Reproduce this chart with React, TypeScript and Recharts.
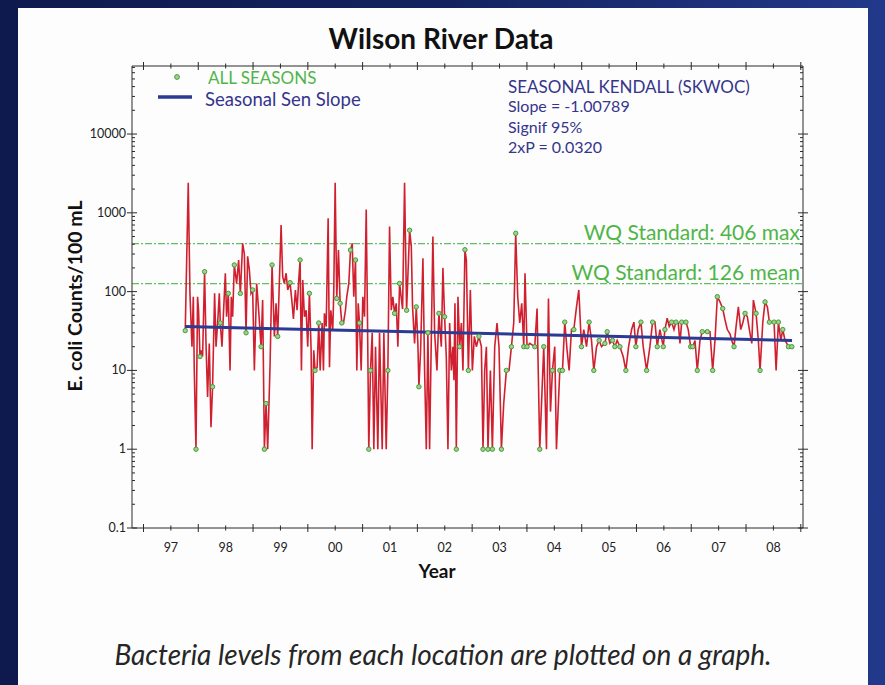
import React from "react";
import { Line, LineChart, ReferenceLine, XAxis, YAxis } from "recharts";

// decimal year of each sample
const sampleYears = [
    1997.762, 1997.817, 1997.848, 1997.885, 1997.909, 1997.927, 1997.958, 1997.987, 1998.005, 1998.031,
    1998.055, 1998.079, 1998.115, 1998.141, 1998.17, 1998.201, 1998.232, 1998.261, 1998.298, 1998.324,
    1998.36, 1998.384, 1998.402, 1998.433, 1998.457, 1998.494, 1998.517, 1998.548, 1998.58, 1998.603,
    1998.627, 1998.658, 1998.7, 1998.737, 1998.768, 1998.81, 1998.841, 1998.872, 1998.901, 1998.932,
    1998.963, 1998.993, 1999.024, 1999.066, 1999.102, 1999.146, 1999.175, 1999.207, 1999.238, 1999.267,
    1999.311, 1999.347, 1999.389, 1999.42, 1999.45, 1999.512, 1999.541, 1999.572, 1999.603, 1999.633,
    1999.676, 1999.713, 1999.737, 1999.773, 1999.804, 1999.834, 1999.859, 1999.883, 1999.907, 1999.938,
    1999.969, 1999.998, 2000.029, 2000.06, 2000.079, 2000.108, 2000.133, 2000.17, 2000.199, 2000.225,
    2000.261, 2000.285, 2000.303, 2000.335, 2000.371, 2000.395, 2000.419, 2000.455, 2000.473, 2000.499,
    2000.528, 2000.559, 2000.59, 2000.62, 2000.651, 2000.687, 2000.711, 2000.748, 2000.779, 2000.81,
    2000.839, 2000.87, 2000.894, 2000.92, 2000.943, 2000.974, 2001.004, 2001.035, 2001.066, 2001.09,
    2001.113, 2001.144, 2001.175, 2001.205, 2001.236, 2001.278, 2001.309, 2001.358, 2001.388, 2001.431,
    2001.461, 2001.492, 2001.523, 2001.552, 2001.583, 2001.614, 2001.644, 2001.675, 2001.73, 2001.766,
    2001.803, 2001.858, 2001.889, 2001.912, 2001.949, 2001.98, 2002.009, 2002.028, 2002.059, 2002.101,
    2002.132, 2002.163, 2002.192, 2002.223, 2002.283, 2002.315, 2002.357, 2002.393, 2002.437, 2002.466,
    2002.497, 2002.528, 2002.558, 2002.589, 2002.62, 2002.649, 2002.667, 2002.686, 2002.711, 2002.741,
    2002.772, 2002.803, 2002.832, 2002.868, 2002.894, 2002.931, 2002.967, 2003.004, 2003.04, 2003.077,
    2003.124, 2003.168, 2003.198, 2003.229, 2003.26, 2003.289, 2003.333, 2003.369, 2003.412, 2003.454,
    2003.49, 2003.534, 2003.576, 2003.625, 2003.673, 2003.717, 2003.759, 2003.795, 2003.832, 2003.869,
    2003.905, 2003.942, 2003.965, 2004.002, 2004.051, 2004.143, 2004.185, 2004.234, 2004.307, 2004.357,
    2004.393, 2004.43, 2004.466, 2004.508, 2004.539, 2004.6, 2004.649, 2004.691, 2004.733, 2004.77,
    2004.813, 2004.856, 2004.905, 2004.947, 2004.996, 2005.038, 2005.088, 2005.135, 2005.179, 2005.221,
    2005.271, 2005.318, 2005.362, 2005.423, 2005.465, 2005.514, 2005.563, 2005.605, 2005.647, 2005.697,
    2005.757, 2005.806, 2005.856, 2005.911, 2005.953, 2005.989, 2006.031, 2006.081, 2006.123, 2006.185,
    2006.245, 2006.294, 2006.337, 2006.379, 2006.428, 2006.489, 2006.519, 2006.561, 2006.598, 2006.642,
    2006.684, 2006.721, 2006.763, 2006.794, 2006.825, 2006.867, 2006.903, 2006.945, 2006.989, 2007.026,
    2007.068, 2007.11, 2007.159, 2007.201, 2007.251, 2007.293, 2007.342, 2007.391, 2007.433, 2007.476,
    2007.525, 2007.574, 2007.616, 2007.658, 2007.708, 2007.739, 2007.781, 2007.818, 2007.86, 2007.903,
    2007.94, 2007.982, 2008.024, 2008.061, 2008.105, 2008.134, 2008.183, 2008.225, 2008.256, 2008.306,
    2008.347, 2008.39, 2008.426, 2008.472, 2008.512, 2008.549, 2008.591, 2008.635, 2008.671, 2008.712,
    2008.744, 2008.774, 2008.836,
];

// E. coli counts per 100 mL
const ecoliCounts = [
    32, 2400, 95, 20, 86, 10, 1, 86, 58, 15,
    18, 15, 179, 22, 4.6, 22, 1.9, 6.2, 95, 20,
    48, 95, 40, 20, 48, 171, 48, 95, 10, 86,
    48, 218, 127, 252, 95, 410, 300, 30, 280, 190,
    95, 105, 10, 127, 58, 20, 78, 1, 3.8, 1,
    12, 218, 27, 71, 27, 700, 155, 127, 171, 105,
    130, 71, 45, 105, 58, 140, 252, 10, 140, 48,
    58, 20, 95, 18, 1, 18, 10, 11, 40, 10,
    40, 10, 53, 36, 850, 11, 58, 33, 95, 2400,
    82, 337, 71, 40, 40, 58, 86, 127, 337, 410,
    86, 252, 10, 71, 40, 10, 86, 48, 1100, 40,
    1, 10, 30, 1, 20, 1, 30, 1, 30, 1,
    10, 670, 58, 86, 53, 71, 20, 127, 60, 2400,
    58, 600, 372, 64, 22, 64, 22, 6.2, 18, 265,
    10, 1, 30, 1, 500, 30, 10, 53, 20, 200,
    48, 15, 1, 40, 10, 20, 7.5, 71, 1, 86,
    20, 40, 10, 340, 252, 10, 105, 10, 27, 20,
    27, 20, 1, 10, 20, 1, 10, 1, 20, 40,
    20, 1, 3.8, 10, 10, 20, 40, 550, 86, 40,
    71, 20, 171, 20, 22, 20, 61, 1, 20, 1,
    82, 3, 10, 20, 1, 10, 10, 41, 18, 10,
    33, 33, 64, 105, 20, 33, 20, 41, 24, 10,
    20, 24, 20, 22, 31, 22, 24, 20, 24, 20,
    15, 10, 20, 33, 41, 20, 33, 41, 20, 10,
    20, 41, 41, 20, 33, 20, 33, 46, 36, 41,
    33, 41, 40, 22, 41, 41, 41, 33, 20, 20,
    24, 10, 24, 31, 31, 31, 31, 10, 24, 86,
    74, 61, 44, 33, 29, 24, 20, 36, 64, 33,
    40, 53, 48, 33, 22, 78, 53, 24, 10, 41,
    74, 64, 41, 41, 41, 10, 41, 24, 33, 24,
    22, 20, 20,
];

// 1 = sample shown with an "ALL SEASONS" marker
const seasonalMarks = [
    1, 0, 0, 0, 0, 0, 1, 0, 0, 1,
    0, 0, 1, 0, 0, 0, 0, 1, 0, 0,
    0, 0, 1, 0, 0, 0, 0, 1, 0, 0,
    0, 1, 0, 0, 1, 0, 0, 1, 0, 0,
    0, 1, 0, 0, 0, 1, 0, 1, 1, 0,
    0, 1, 0, 0, 1, 0, 0, 0, 0, 0,
    1, 0, 0, 0, 0, 0, 1, 0, 0, 0,
    0, 0, 1, 0, 0, 0, 1, 0, 1, 0,
    0, 0, 0, 0, 0, 0, 0, 0, 0, 0,
    1, 0, 1, 1, 0, 0, 0, 0, 1, 0,
    0, 1, 0, 0, 1, 0, 0, 0, 0, 0,
    1, 1, 0, 0, 0, 0, 0, 0, 0, 0,
    1, 0, 0, 0, 1, 0, 0, 1, 0, 0,
    1, 1, 0, 0, 0, 1, 0, 1, 0, 0,
    0, 0, 1, 0, 0, 0, 0, 1, 0, 0,
    1, 0, 0, 0, 0, 0, 0, 0, 1, 0,
    1, 0, 0, 1, 0, 1, 0, 0, 0, 0,
    1, 0, 1, 0, 0, 1, 0, 1, 0, 0,
    0, 1, 0, 1, 0, 1, 0, 1, 0, 0,
    0, 1, 0, 1, 0, 1, 0, 1, 1, 0,
    0, 0, 1, 0, 0, 1, 1, 1, 0, 0,
    0, 1, 0, 0, 1, 0, 0, 1, 0, 1,
    0, 1, 0, 1, 1, 0, 1, 1, 0, 1,
    0, 1, 0, 0, 0, 1, 0, 1, 0, 1,
    0, 1, 0, 1, 0, 1, 1, 0, 0, 1,
    0, 1, 0, 0, 1, 0, 1, 0, 1, 1,
    0, 1, 0, 1, 0, 1, 0, 1, 0, 1,
    0, 1, 0, 0, 0, 0, 1, 0, 0, 0,
    0, 1, 0, 0, 0, 0, 1, 0, 1, 0,
    1, 0, 1, 0, 1, 0, 1, 0, 1, 0,
    0, 1, 1,
];

const senSlopeYears = [1997.76, 2008.84];
const senSlopeCounts = [36, 24];

const wqMax = 406;
const wqMean = 126;

const yearTicks = [
    1997, 1997.5, 1998, 1998.5, 1999, 1999.5, 2000, 2000.5, 2001, 2001.5, 2002, 2002.5, 2003,
    2003.5, 2004, 2004.5, 2005, 2005.5, 2006, 2006.5, 2007, 2007.5, 2008, 2008.5, 2009,
];
const yearLabels = ["97", "98", "99", "00", "01", "02", "03", "04", "05", "06", "07", "08"];

const decadeTicks = [0.1, 1, 10, 100, 1000, 10000];
const decadeLabels = ["0.1", "1", "10", "100", "1000", "10000"];

const X_DOMAIN: [number, number] = [1996.79, 2009.04];
const Y_DOMAIN: [number, number] = [0.1, 73000];

const countTicks = decadeTicks
    .flatMap((d) => [1, 2, 3, 4, 5, 6, 7, 8, 9].map((m) => Number((d * m).toPrecision(3))))
    .filter((v) => v <= Y_DOMAIN[1]);

const FONT = "Lato, 'Noto Sans', sans-serif";
const AXIS = "#2a2a2a";
const GREEN = "#4fb548";
const INDIGO = "#35358c";

const chartData = sampleYears.map((year, i) => ({
    year,
    count: ecoliCounts[i],
    seasonal: seasonalMarks[i] === 1,
}));

const senData = senSlopeYears.map((year, i) => ({ year, count: senSlopeCounts[i] }));

function BottomYearTick(props: any) {
    const { x, y, payload } = props;
    const v = payload.value as number;
    const major = Number.isInteger(v);
    const len = major ? 4 : 2.5;
    return (
        <g>
            <line x1={x} x2={x} y1={y - len} y2={y + len} stroke={AXIS} strokeWidth={1} />
            {!major && (
                <text x={x} y={y + 24} textAnchor="middle" fontSize={12.5} fontFamily={FONT} fill="#222">
                    {yearLabels[Math.round(v - 1997.5)]}
                </text>
            )}
        </g>
    );
}

function TopYearTick(props: any) {
    const { x, y, payload } = props;
    const len = Number.isInteger(payload.value) ? 4 : 2.5;
    return <line x1={x} x2={x} y1={y - len} y2={y + len} stroke={AXIS} strokeWidth={1} />;
}

function isDecade(v: number) {
    return decadeTicks.some((d) => Math.abs(d - v) / d < 1e-6);
}

function LeftCountTick(props: any) {
    const { x, y, payload } = props;
    const v = payload.value as number;
    const major = isDecade(v);
    const idx = decadeTicks.findIndex((d) => Math.abs(d - v) / d < 1e-6);
    return (
        <g>
            <line x1={x - (major ? 5 : 0)} x2={x + (major ? 5 : 3)} y1={y} y2={y} stroke={AXIS} strokeWidth={1} />
            {major && (
                <text x={x - 6} y={y + 4} textAnchor="end" fontSize={12.5} fontFamily={FONT} fill="#222">
                    {decadeLabels[idx]}
                </text>
            )}
        </g>
    );
}

function RightCountTick(props: any) {
    const { x, y, payload } = props;
    const major = isDecade(payload.value);
    return <line x1={x - (major ? 5 : 3)} x2={x + (major ? 5 : 0)} y1={y} y2={y} stroke={AXIS} strokeWidth={1} />;
}

function SeasonDot(props: any) {
    const { cx, cy, payload, index } = props;
    if (!payload || !payload.seasonal) return <g key={`sd-${index}`} />;
    return <circle key={`sd-${index}`} cx={cx} cy={cy} r={2.2} fill="#9fd488" stroke="#469a3e" strokeWidth={1} />;
}

type TxtProps = {
    x: number;
    y: number;
    size: number;
    color?: string;
    anchor?: "start" | "middle" | "end";
    bold?: boolean;
    italic?: boolean;
    rotate?: boolean;
    children: React.ReactNode;
};

function Txt({ x, y, size, color = "#111", anchor = "start", bold, italic, rotate, children }: TxtProps) {
    const tx = anchor === "start" ? "0" : anchor === "middle" ? "-50%" : "-100%";
    return (
        <div
            style={{
                position: "absolute",
                left: x,
                top: y,
                transform: `translate(${tx}, -50%)${rotate ? " rotate(-90deg)" : ""}`,
                transformOrigin: rotate ? "50% 50%" : undefined,
                fontFamily: FONT,
                fontSize: size,
                fontWeight: bold ? 700 : 400,
                fontStyle: italic ? "italic" : "normal",
                color,
                whiteSpace: "nowrap",
                lineHeight: 1,
            }}
        >
            {children}
        </div>
    );
}

export default function App() {
    return (
        <div
            style={{
                position: "fixed",
                left: 0,
                top: 0,
                width: 885,
                height: 685,
                overflow: "hidden",
                background: "linear-gradient(90deg, #0e1a4d 0%, #14235f 50%, #22388a 100%)",
            }}
        >
            <div style={{ position: "absolute", left: 18, top: 8, width: 850, height: 677, background: "#fdfdfd" }} />

            <div style={{ position: "absolute", left: 0, top: 0 }}>
                <LineChart width={885} height={685} data={chartData} margin={{ top: 60, right: 76, bottom: 117, left: 72 }}>
                    <XAxis
                        dataKey="year"
                        type="number"
                        domain={X_DOMAIN}
                        allowDataOverflow
                        ticks={yearTicks}
                        interval={0}
                        tickSize={0}
                        tickMargin={0}
                        tickLine={false}
                        tick={BottomYearTick}
                        height={40}
                        axisLine={{ stroke: AXIS }}
                    />
                    <XAxis
                        xAxisId="top"
                        orientation="top"
                        dataKey="year"
                        type="number"
                        domain={X_DOMAIN}
                        allowDataOverflow
                        ticks={yearTicks}
                        interval={0}
                        tickSize={0}
                        tickMargin={0}
                        tickLine={false}
                        tick={TopYearTick}
                        height={6}
                        axisLine={{ stroke: AXIS }}
                    />
                    <YAxis
                        type="number"
                        scale="log"
                        domain={Y_DOMAIN}
                        allowDataOverflow
                        ticks={countTicks}
                        interval={0}
                        tickSize={0}
                        tickMargin={0}
                        tickLine={false}
                        tick={LeftCountTick}
                        width={60}
                        axisLine={{ stroke: AXIS }}
                    />
                    <YAxis
                        yAxisId="right"
                        orientation="right"
                        type="number"
                        scale="log"
                        domain={Y_DOMAIN}
                        allowDataOverflow
                        ticks={countTicks}
                        interval={0}
                        tickSize={0}
                        tickMargin={0}
                        tickLine={false}
                        tick={RightCountTick}
                        width={6}
                        axisLine={{ stroke: AXIS }}
                    />
                    <ReferenceLine y={wqMax} stroke="#62c062" strokeWidth={1.2} strokeDasharray="7 2 2 2" />
                    <ReferenceLine y={wqMean} stroke="#62c062" strokeWidth={1.2} strokeDasharray="7 2 2 2" />
                    <Line
                        type="linear"
                        dataKey="count"
                        stroke="#d0202f"
                        strokeWidth={1.6}
                        dot={SeasonDot}
                        activeDot={false}
                        isAnimationActive={false}
                    />
                    <Line
                        xAxisId="top"
                        yAxisId="right"
                        data={senData}
                        type="linear"
                        dataKey="count"
                        stroke="#2b3a92"
                        strokeWidth={3}
                        dot={false}
                        activeDot={false}
                        isAnimationActive={false}
                    />
                </LineChart>
            </div>

            <Txt x={441} y={38} size={28} bold anchor="middle">Wilson River Data</Txt>

            <svg style={{ position: "absolute", left: 150, top: 68 }} width={50} height={40}>
                <circle cx={27} cy={9} r={2.4} fill="#9fd488" stroke="#469a3e" strokeWidth={1} />
                <line x1={8} x2={42} y1={29} y2={29} stroke="#2b3a92" strokeWidth={3.5} />
            </svg>
            <Txt x={208} y={77} size={17} color={GREEN}>ALL SEASONS</Txt>
            <Txt x={205} y={99} size={18.5} color={INDIGO}>Seasonal Sen Slope</Txt>

            <Txt x={508} y={86} size={17} color={INDIGO}>SEASONAL KENDALL (SKWOC)</Txt>
            <Txt x={508} y={106} size={16} color={INDIGO}>Slope = -1.00789</Txt>
            <Txt x={508} y={127} size={16} color={INDIGO}>Signif 95%</Txt>
            <Txt x={508} y={147} size={16} color={INDIGO}>2xP = 0.0320</Txt>

            <Txt x={800} y={231} size={21} color={GREEN} anchor="end">WQ Standard: 406 max</Txt>
            <Txt x={800} y={271} size={21} color={GREEN} anchor="end">WQ Standard: 126 mean</Txt>

            <Txt x={75} y={296} size={19.5} bold anchor="middle" rotate>E. coli Counts/100 mL</Txt>
            <Txt x={437} y={570} size={19} bold anchor="middle">Year</Txt>

            <Txt x={443} y={654} size={28} italic color="#262626" anchor="middle">
                Bacteria levels from each location are plotted on a graph.
            </Txt>
        </div>
    );
}
